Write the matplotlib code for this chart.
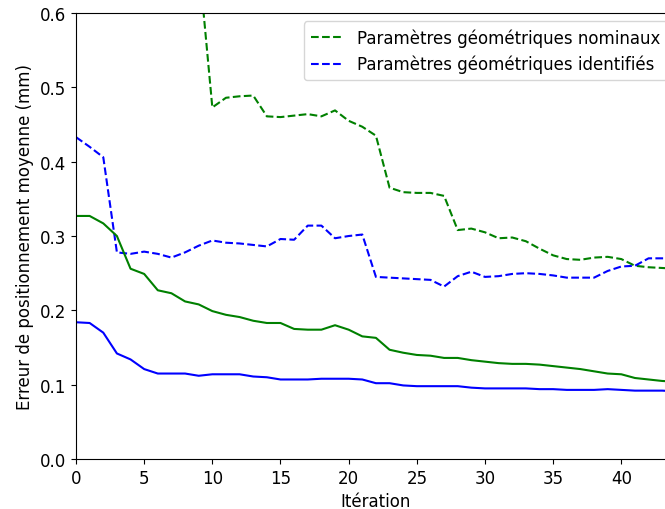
import matplotlib
matplotlib.use("Agg")
import matplotlib.pyplot as plt

plt.rcParams['font.size'] = 12

iterations = list(range(45))

nominal_dashed = [1.05, 1.00, 0.95, 0.90, 0.85, 0.80, 0.76, 0.72, 0.69, 0.671,
                  0.473, 0.486, 0.488, 0.489, 0.461, 0.460, 0.462, 0.464, 0.461, 0.469,
                  0.455, 0.447, 0.435, 0.365, 0.359, 0.358, 0.358, 0.354, 0.308, 0.310,
                  0.305, 0.297, 0.298, 0.293, 0.283, 0.274, 0.269, 0.268, 0.271, 0.272,
                  0.269, 0.260, 0.258, 0.257, 0.256]

identified_dashed = [0.433, 0.420, 0.406, 0.278, 0.276, 0.279, 0.276, 0.271, 0.278, 0.287,
                     0.294, 0.291, 0.290, 0.288, 0.286, 0.296, 0.295, 0.314, 0.314, 0.297,
                     0.300, 0.302, 0.245, 0.244, 0.243, 0.242, 0.241, 0.232, 0.246, 0.252,
                     0.245, 0.246, 0.249, 0.250, 0.249, 0.247, 0.244, 0.244, 0.244, 0.253,
                     0.259, 0.260, 0.270, 0.270, 0.270]

nominal_solid = [0.327, 0.327, 0.317, 0.300, 0.256, 0.249, 0.227, 0.223, 0.212, 0.208,
                 0.199, 0.194, 0.191, 0.186, 0.183, 0.183, 0.175, 0.174, 0.174, 0.180,
                 0.174, 0.165, 0.163, 0.147, 0.143, 0.140, 0.139, 0.136, 0.136, 0.133,
                 0.131, 0.129, 0.128, 0.128, 0.127, 0.125, 0.123, 0.121, 0.118, 0.115,
                 0.114, 0.109, 0.107, 0.105, 0.104]

identified_solid = [0.184, 0.183, 0.170, 0.142, 0.134, 0.121, 0.115, 0.115, 0.115, 0.112,
                    0.114, 0.114, 0.114, 0.111, 0.110, 0.107, 0.107, 0.107, 0.108, 0.108,
                    0.108, 0.107, 0.102, 0.102, 0.099, 0.098, 0.098, 0.098, 0.098, 0.096,
                    0.095, 0.095, 0.095, 0.095, 0.094, 0.094, 0.093, 0.093, 0.093, 0.094,
                    0.093, 0.092, 0.092, 0.092, 0.091]

fig = plt.figure(figsize=(6.65, 5.10), dpi=100)
# axes extends slightly past the right edge (reference image is cropped)
ax = fig.add_axes([0.1143, 0.098, 0.902, 0.8745])

ax.plot(iterations, nominal_dashed, '--', color='green', label='Paramètres géométriques nominaux')
ax.plot(iterations, identified_dashed, '--', color='blue', label='Paramètres géométriques identifiés')
ax.plot(iterations, nominal_solid, '-', color='green')
ax.plot(iterations, identified_solid, '-', color='blue')

ax.set_xlim(0, 44)
ax.set_ylim(0, 0.6)
ax.set_xticks([0, 5, 10, 15, 20, 25, 30, 35, 40])
ax.set_yticks([0.0, 0.1, 0.2, 0.3, 0.4, 0.5, 0.6])
ax.set_xlabel('Itération')
ax.set_ylabel('Erreur de positionnement moyenne (mm)')
ax.legend(loc='upper right')

fig.savefig('out.png', dpi=100)
